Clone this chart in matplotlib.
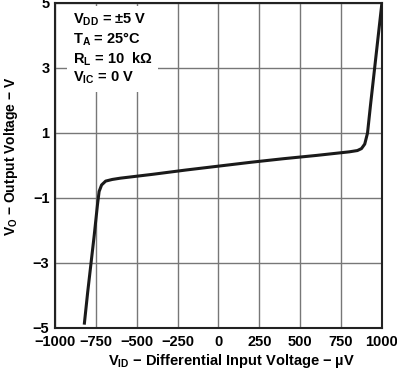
import numpy as np
import matplotlib
matplotlib.use('Agg')
import matplotlib.pyplot as plt

plt.rcParams['font.family'] = ['Liberation Sans', 'DejaVu Sans']
plt.rcParams['font.weight'] = 'bold'
plt.rcParams['mathtext.fontset'] = 'custom'
plt.rcParams['mathtext.rm'] = 'Liberation Sans:bold'
plt.rcParams['mathtext.it'] = 'Liberation Sans:bold'
plt.rcParams['mathtext.bf'] = 'Liberation Sans:bold'

# transfer curve
vid_uv = [-820, -800, -760, -740, -730, -715, -690, -650, -600, -400, -200, 0,
          200, 400, 600, 800, 850, 875, 895, 912, 930, 1000]
vo_v = [-4.85, -3.9, -2.15, -1.2, -0.8, -0.6, -0.48, -0.43, -0.39, -0.27, -0.14, -0.02,
        0.1, 0.21, 0.31, 0.42, 0.46, 0.52, 0.66, 1.0, 1.85, 5.0]

xticks = [-1000, -750, -500, -250, 0, 250, 500, 750, 1000]
yticks = [-5, -3, -1, 1, 3, 5]
conditions = [r'$\mathrm{V_{DD}}$ = ±5 V', r'$\mathrm{T_A}$ = 25°C',
              r'$\mathrm{R_L}$ = 10  kΩ', r'$\mathrm{V_{IC}}$ = 0 V']

fig = plt.figure(figsize=(3.97, 3.68), dpi=100)
ax = fig.add_axes([0.1385, 0.1087, 0.8235, 0.8832])

ax.plot(vid_uv, vo_v, color='#1a1a1a', lw=2.2, solid_joinstyle='round', zorder=3)

ax.set_xlim(-1000, 1000)
ax.set_ylim(-5, 5)
ax.set_xticks(xticks)
ax.set_yticks(yticks)
ax.set_xticklabels([str(t).replace('-', '\u2212') for t in xticks], fontsize=10.5, fontweight='bold')
ax.set_yticklabels([str(t).replace('-', '\u2212') for t in yticks], fontsize=10.5, fontweight='bold')
ax.tick_params(length=0)
ax.tick_params(axis='y', pad=4)
ax.tick_params(axis='x', pad=5)
ax.grid(True, color='#777777', lw=1)
for s in ax.spines.values():
    s.set_linewidth(1.5)
    s.set_color('#222222')

ax.set_xlabel(r'$\mathrm{V_{ID}}$ − Differential Input Voltage − µV', fontsize=10.5,
              fontweight='bold')
ax.xaxis.set_label_coords(0.54, -0.1)
ax.xaxis.label.set_va('center')
ax.set_ylabel(r'$\mathrm{V_O}$ − Output Voltage − V', fontsize=10,
              fontweight='bold')
ax.yaxis.label.set_va('center')
ax.yaxis.set_label_coords(-0.135, 0.53)

# white box behind the test conditions
ax.text(0.055, 0.975, '\n'.join(conditions), transform=ax.transAxes, fontsize=10.5,
        fontweight='bold', va='top', ha='left', linespacing=1.2,
        bbox=dict(facecolor='white', edgecolor='none', pad=4), zorder=4)

fig.savefig('out.png', dpi=100)
